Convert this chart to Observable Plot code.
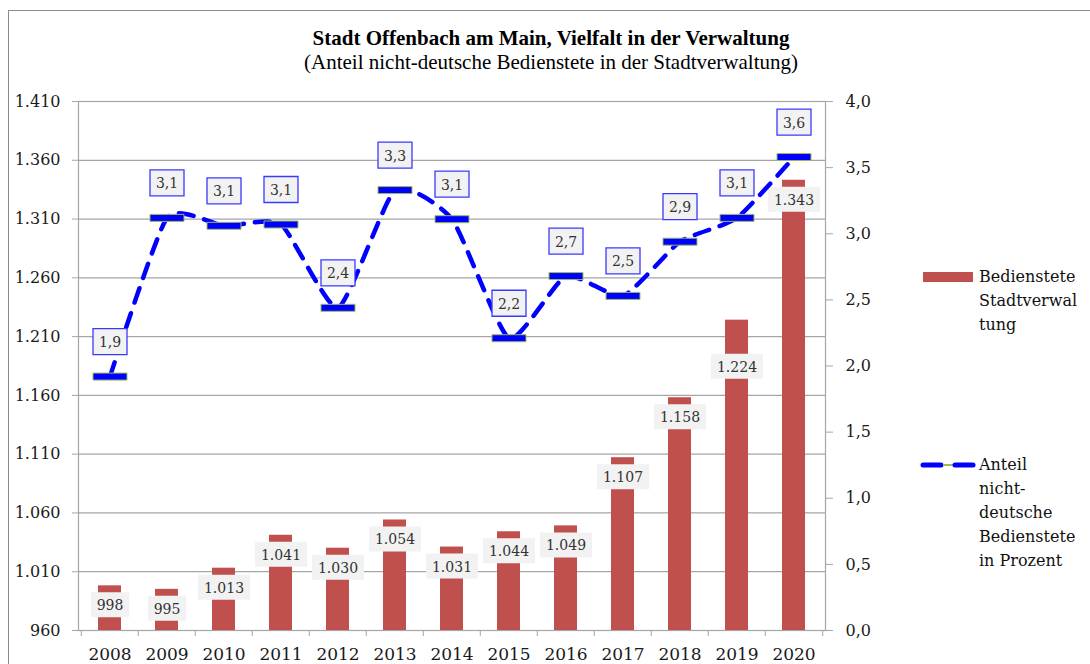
<!DOCTYPE html>
<html><head><meta charset="utf-8">
<script src="https://cdn.jsdelivr.net/npm/d3@7"></script>
<script src="https://cdn.jsdelivr.net/npm/@observablehq/plot@0.6"></script>
<style>
body{margin:0;background:#fff;}
#wrap{position:relative;width:1090px;height:664px;overflow:hidden;background:#fff;}
#border{position:absolute;left:8px;top:10px;width:1200px;height:800px;border:1px solid #8c8c8c;box-sizing:border-box;}
#header{position:relative;height:80px;}
#title{position:absolute;top:26px;left:0;width:1102px;text-align:center;font:bold 21px "Liberation Serif",serif;color:#000;}
#subtitle{position:absolute;top:50px;left:0;width:1102px;text-align:center;font:21px "Liberation Serif",serif;color:#000;}
#chart{position:relative;}
.lg{position:absolute;font:16px "DejaVu Serif",serif;line-height:24px;color:#111;}
</style></head>
<body>
<div id="wrap">
  <div id="border"></div>
  <div id="header">
    <div id="title">Stadt Offenbach am Main, Vielfalt in der Verwaltung</div>
    <div id="subtitle">(Anteil nicht-deutsche Bedienstete in der Stadtverwaltung)</div>
  </div>
  <div id="chart"></div>
  <div style="position:absolute;left:923px;top:272px;width:50px;height:10px;background:#c0504d;"></div>
  <div class="lg" style="left:979px;top:265px;">Bedienstete<br>Stadtverwal<br>tung</div>
  <svg style="position:absolute;left:919px;top:459px;" width="58" height="12">
    <line x1="4" y1="6" x2="22" y2="6" stroke="#0000ff" stroke-width="5" stroke-linecap="round"/>
    <line x1="24" y1="6" x2="34" y2="6" stroke="#9bbb59" stroke-width="2"/>
    <line x1="36" y1="6" x2="54" y2="6" stroke="#0000ff" stroke-width="5" stroke-linecap="round"/>
  </svg>
  <div class="lg" style="left:979px;top:453px;">Anteil<br>nicht-<br>deutsche<br>Bedienstete<br>in Prozent</div>
</div>
<script>
// ---- data ----
const years = ["2008","2009","2010","2011","2012","2013","2014","2015","2016","2017","2018","2019","2020"];
const staff = [998, 995, 1013, 1041, 1030, 1054, 1031, 1044, 1049, 1107, 1158, 1224, 1343];
const sharePct = [1.92, 3.12, 3.06, 3.07, 2.44, 3.33, 3.11, 2.21, 2.68, 2.53, 2.94, 3.12, 3.58];
const shareLabels = ["1,9","3,1","3,1","3,1","2,4","3,3","3,1","2,2","2,7","2,5","2,9","3,1","3,6"];
const leftTicks = [960, 1010, 1060, 1110, 1160, 1210, 1260, 1310, 1360, 1410];
const rightTicks = [0, 0.5, 1, 1.5, 2, 2.5, 3, 3.5, 4];

const data = years.map((year, i) => ({year, staff: staff[i], share: sharePct[i], shareLabel: shareLabels[i]}));

const L0 = 960, L1 = 1410, R1 = 4;
const toLeft = v => L0 + v * (L1 - L0) / R1;
const fmtStaff = v => d3.format(",")(v).replace(/,/g, ".");
const fmtPct = v => v.toFixed(1).replace(".", ",");

const W = 1090, H = 584, mL = 78, mR = 265, mT = 21, mB = 34;
const step = (W - mL - mR) / years.length;

const rectSym = (w, h) => ({draw(ctx) { ctx.rect(-w / 2, -h / 2, w, h); }});

const lblNormal = data.filter(d => d.year !== "2019");
const lblShifted = data.filter(d => d.year === "2019");

function barLabelMarks(arr, dy) {
  return [
    Plot.dot(arr.filter(d => String(d.staff).length <= 3), {x: "year", y: "staff", dy, symbol: rectSym(38, 25), fill: "#f2f2f2", stroke: "none"}),
    Plot.dot(arr.filter(d => String(d.staff).length > 3), {x: "year", y: "staff", dy, symbol: rectSym(52, 25), fill: "#f2f2f2", stroke: "none"}),
    Plot.text(arr, {x: "year", y: "staff", dy: dy + 1, text: d => fmtStaff(d.staff), fontFamily: "DejaVu Serif", fontSize: 14, fill: "#333"})
  ];
}

const chart = Plot.plot({
  width: W, height: H,
  marginLeft: mL, marginRight: mR, marginTop: mT, marginBottom: mB,
  style: {fontFamily: "DejaVu Serif", fontSize: "16px", color: "#1a1a1a", background: "transparent"},
  x: {type: "band", domain: years, paddingInner: 0.6, paddingOuter: 0.3},
  y: {domain: [L0, L1]},
  marks: [
    Plot.gridY(leftTicks, {stroke: "#a6a6a6", strokeOpacity: 1, strokeWidth: 1.2}),
    Plot.frame({stroke: "#a6a6a6", strokeWidth: 1.2}),
    Plot.barY(data, {x: "year", y1: L0, y2: "staff", fill: "#c0504d"}),
    ...barLabelMarks(lblNormal, 19),
    ...barLabelMarks(lblShifted, 46),
    Plot.line(data, {x: "year", y: d => toLeft(d.share), stroke: "#0000ff", strokeWidth: 4.5, strokeDasharray: "15,11", strokeLinecap: "round", curve: "cardinal", tension: 0.45}),
    Plot.dot(data, {x: "year", y: d => toLeft(d.share), symbol: rectSym(34, 7), fill: "#0000ff", stroke: "#9bbb59", strokeWidth: 1}),
    Plot.dot(data, {x: "year", y: d => toLeft(d.share), dy: -35, symbol: rectSym(34, 26), fill: "#f2f2f2", stroke: "#3a3aff", strokeWidth: 1.3}),
    Plot.text(data, {x: "year", y: d => toLeft(d.share), dy: -34, text: "shareLabel", fontFamily: "DejaVu Serif", fontSize: 14, fill: "#333"}),
    Plot.axisY({anchor: "left", ticks: leftTicks, tickFormat: fmtStaff, tickSize: 6, tickPadding: 12, stroke: "#a6a6a6", fontSize: 16, label: null}),
    Plot.axisY({anchor: "right", ticks: rightTicks.map(toLeft), tickFormat: v => fmtPct((v - L0) * R1 / (L1 - L0)), tickSize: 7, tickPadding: 13, stroke: "#a6a6a6", fontSize: 16, label: null}),
    Plot.axisX({tickSize: 0, tickPadding: 17, fontSize: 17, label: null}),
    Plot.ruleX(years, {x: d => d, dx: -step / 2, y1: L0, y2: L0, insetBottom: -6, stroke: "#a6a6a6"}),
    Plot.ruleX(years.slice(-1), {x: d => d, dx: step / 2, y1: L0, y2: L0, insetBottom: -6, stroke: "#a6a6a6"})
  ]
});
document.getElementById("chart").appendChild(chart);
</script>
</body></html>
